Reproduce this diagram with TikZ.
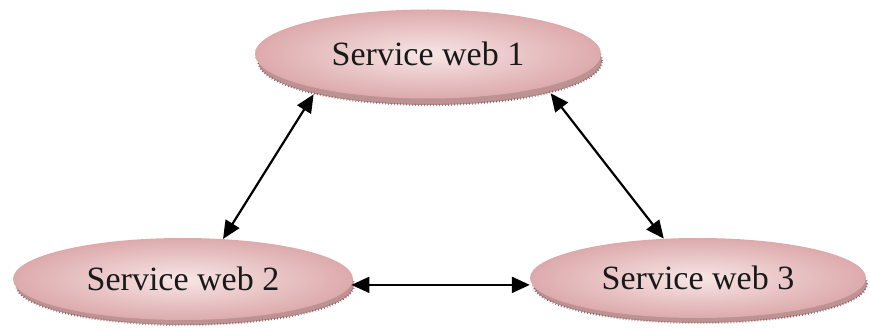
\documentclass[tikz,border=0pt]{standalone}
\usepackage{fontspec}
\setmainfont{Liberation Serif}
\usetikzlibrary{shapes.geometric,arrows.meta}

\definecolor{diskin}{HTML}{F8E6E6}
\definecolor{diskout}{HTML}{DDAAAC}
\definecolor{diskrim}{HTML}{BC9292}
\definecolor{rimtick}{HTML}{7E5656}

\tikzset{
  disk/.style={ellipse, inner sep=0pt, inner color=diskin, outer color=diskout,
               font=\fontsize{34}{40}\selectfont, text=black!90},
  rim/.style={ellipse, inner sep=0pt, fill=diskrim, draw=rimtick,
              line width=2.2pt, dash pattern=on 0.6pt off 2.4pt},
  link/.style={{Triangle[length=18pt,width=16pt]}-{Triangle[length=18pt,width=16pt]},
               line width=2.2pt, black}
}

\begin{document}
\begin{tikzpicture}[x=1pt,y=-1pt]
  \useasboundingbox (0,0) rectangle (870,331);

  % extruded rims under each disk
  \node[rim, minimum width=344pt, minimum height=88pt] (s1) at (430,61) {};
  \node[rim, minimum width=338pt, minimum height=80pt] (s2) at (185,285) {};
  \node[rim, minimum width=334pt, minimum height=78pt] (s3) at (700,284) {};

  % the three services
  \node[disk, minimum width=346pt, minimum height=89pt] (n1) at (428,54) {Service web 1};
  \node[disk, minimum width=340pt, minimum height=82pt] (n2) at (183,279) {Service web 2};
  \node[disk, minimum width=336pt, minimum height=80pt] (n3) at (698,278) {Service web 3};

  % two-way links
  \draw[link] (s1.196) -- (n2.45);
  \draw[link] (s1.-15.5) -- (n3.131);
  \draw[link] (n2.-2) -- (n2.-2 -| n3.west);
\end{tikzpicture}
\end{document}
